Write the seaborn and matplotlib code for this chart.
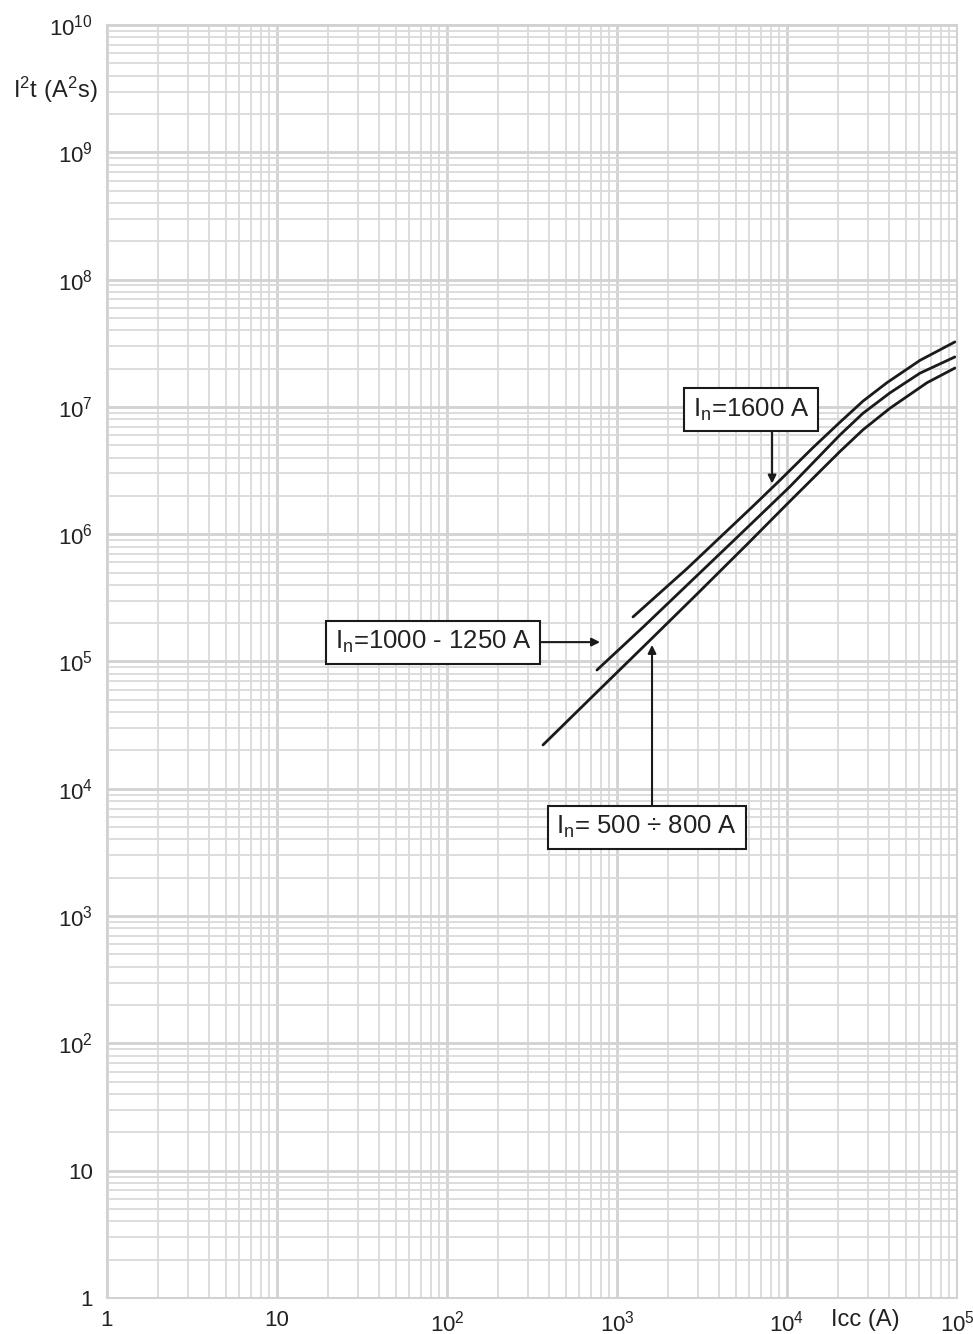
import numpy as np
import pandas as pd
import seaborn as sns
import matplotlib.pyplot as plt
from matplotlib.ticker import LogLocator, NullFormatter

# curve points (Icc in A, I2t in A2s)
icc_500_800 = [367, 762, 1629, 2958, 5821, 10420, 20510, 27990, 40360, 66680, 97270]
i2t_500_800 = [2.21e4, 5.75e4, 1.55e5, 3.39e5, 8.32e5, 1.82e6, 4.47e6, 6.61e6,
               9.77e6, 1.55e7, 2.02e7]

icc_1000_1250 = [762, 1422, 2582, 5082, 10420, 20510, 27990, 40360, 60530, 97270]
i2t_1000_1250 = [8.57e4, 1.86e5, 3.98e5, 9.44e5, 2.37e6, 6.03e6, 8.91e6,
                 1.29e7, 1.84e7, 2.47e7]

icc_1600 = [1242, 2582, 4036, 6310, 9100, 14220, 20510, 27990, 38730, 60530, 97270]
i2t_1600 = [2.24e5, 5.37e5, 9.44e5, 1.66e6, 2.66e6, 4.79e6, 7.59e6, 1.11e7,
            1.55e7, 2.32e7, 3.24e7]

x_ticks = [1, 10, 1e2, 1e3, 1e4, 1e5]
x_labels = ["1", "10", r"$\mathregular{10^2}$", r"$\mathregular{10^3}$",
            r"$\mathregular{10^4}$", r"$\mathregular{10^5}$"]
y_ticks = [1, 10, 1e2, 1e3, 1e4, 1e5, 1e6, 1e7, 1e8, 1e9, 1e10]
y_labels = ["1", "10"] + [r"$\mathregular{10^{%d}}$" % k for k in range(2, 11)]

df = pd.concat([
    pd.DataFrame({"Icc": icc_500_800, "I2t": i2t_500_800, "In": "500-800"}),
    pd.DataFrame({"Icc": icc_1000_1250, "I2t": i2t_1000_1250, "In": "1000-1250"}),
    pd.DataFrame({"Icc": icc_1600, "I2t": i2t_1600, "In": "1600"}),
])

sns.set_theme(style="white")
plt.rcParams["font.family"] = ["Liberation Sans", "DejaVu Sans"]
plt.rcParams["mathtext.fontset"] = "custom"
plt.rcParams["mathtext.rm"] = "Liberation Sans"

fig = plt.figure(figsize=(9.73, 13.34), dpi=100)
ax = fig.add_axes([107 / 973, 1 - 1298 / 1334, 850 / 973, 1273 / 1334])

sns.lineplot(data=df, x="Icc", y="I2t", hue="In", palette=["#1a1a1a"] * 3,
             sort=False, estimator=None, linewidth=2.0, legend=False, ax=ax)

ax.set_xscale("log")
ax.set_yscale("log")
ax.set_xlim(1, 1e5)
ax.set_ylim(1, 1e10)
ax.set_xticks(x_ticks)
ax.set_xticklabels(x_labels, fontsize=16, color="#222222")
ax.set_yticks(y_ticks)
ax.set_yticklabels(y_labels, fontsize=16, color="#222222")
for axis in (ax.xaxis, ax.yaxis):
    axis.set_minor_locator(LogLocator(base=10, subs=np.arange(2, 10), numticks=200))
    axis.set_minor_formatter(NullFormatter())
ax.tick_params(which="both", length=0)
ax.tick_params(axis="x", pad=9)
ax.tick_params(axis="y", pad=10)
ax.set_xlabel("")
ax.set_ylabel("")

ax.grid(True, which="major", color="#d2d2d2", linewidth=2.0)
ax.grid(True, which="minor", color="#dadada", linewidth=1.3)
for s in ax.spines.values():
    s.set_color("#d2d2d2")
    s.set_linewidth(1.5)

fig.text(55 / 973, 1 - 90 / 1334, r"$\mathregular{I^2t\ (A^2s)}$",
         fontsize=17, ha="center", va="center", color="#222222")
fig.text(865 / 973, 1 - 1320 / 1334, "Icc (A)",
         fontsize=17, ha="center", va="center", color="#222222")

box = dict(boxstyle="square,pad=0.32", fc="white", ec="#1a1a1a", lw=1.5)
arrow = dict(arrowstyle="-|>", color="#1a1a1a", lw=1.5, mutation_scale=12,
             shrinkA=0, shrinkB=0)

# label boxes
ax.text(6150, 9.46e6, r"I$_\mathregular{n}$=1600 A", fontsize=18.5,
        ha="center", va="center", bbox=box, color="#222222", zorder=5)
ax.text(82.8, 1.42e5, r"I$_\mathregular{n}$=1000 - 1250 A", fontsize=18.5,
        ha="center", va="center", bbox=box, color="#222222", zorder=5)
ax.text(1500, 5.0e3, r"I$_\mathregular{n}$= 500 ÷ 800 A", fontsize=18.5,
        ha="center", va="center", bbox=box, color="#222222", zorder=5)

# arrows from the boxes to the curves
ax.annotate("", xy=(8170, 2.5e6), xytext=(8170, 6.35e6), arrowprops=arrow)
ax.annotate("", xy=(795, 1.42e5), xytext=(343, 1.42e5), arrowprops=arrow)
ax.annotate("", xy=(1607, 1.35e5), xytext=(1607, 7.46e3), arrowprops=arrow)

fig.savefig("out.png", dpi=100)
